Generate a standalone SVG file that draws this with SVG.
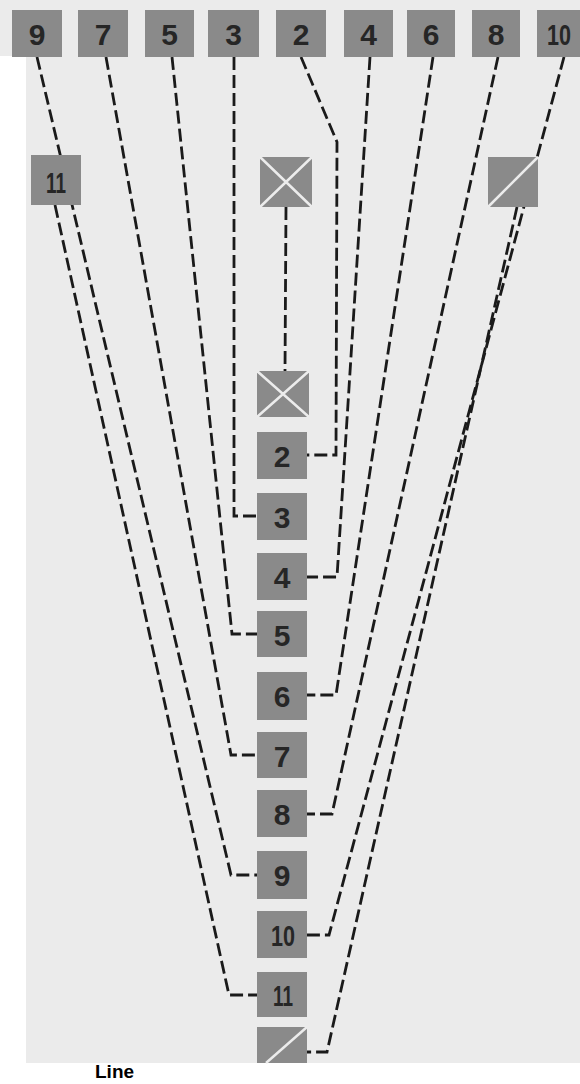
<svg xmlns="http://www.w3.org/2000/svg" width="580" height="1084" viewBox="0 0 580 1084">
<style>
.bg{fill:#ebebeb}
.box{fill:#8a8a8a}
.num{font-family:"Liberation Sans",Arial,sans-serif;font-weight:bold;font-size:30px;fill:#262626;text-anchor:middle}
.mark{stroke:#ececec;stroke-width:2.5;fill:none}
.conn{fill:none;stroke:#1a1a1a;stroke-width:2.8;stroke-dasharray:13 5;stroke-linejoin:miter}
.lbl{font-family:"Liberation Sans",Arial,sans-serif;font-weight:bold;font-size:19px;fill:#000}
</style>
<rect class="bg" x="0" y="0" width="580" height="1063"/>
<rect x="0" y="56" width="26" height="1028" fill="#ffffff"/>
<rect x="0" y="1063" width="580" height="21" fill="#ffffff"/>

<g id="connectors">
<polyline class="conn" points="37,57 231,875 257,875"/>
<polyline class="conn" points="55,205 229,995 257,995"/>
<polyline class="conn" points="106,57 231,755 257,755"/>
<polyline class="conn" points="172,57 232,634 257,634"/>
<polyline class="conn" points="234,57 234,516 257,516"/>
<polyline class="conn" points="286,207 285,371"/>
<polyline class="conn" points="301,57 337,142 336,455 307,455"/>
<polyline class="conn" points="370,57 337,577 307,577"/>
<polyline class="conn" points="433,57 336,695 307,695"/>
<polyline class="conn" points="498,57 332,814 307,814"/>
<polyline class="conn" points="564,57 329,935 307,935"/>
<polyline class="conn" points="517,207 327,1052 307,1052"/>
</g>

<g id="top-9"><rect class="box" x="12" y="10" width="50" height="47"/><text class="num" x="37" y="45">9</text></g>
<g id="top-7"><rect class="box" x="78" y="10" width="50" height="47"/><text class="num" x="103" y="45">7</text></g>
<g id="top-5"><rect class="box" x="145" y="10" width="49" height="47"/><text class="num" x="169.5" y="45">5</text></g>
<g id="top-3"><rect class="box" x="208" y="10" width="51" height="47"/><text class="num" x="233.5" y="45">3</text></g>
<g id="top-2"><rect class="box" x="276" y="10" width="50" height="47"/><text class="num" x="301" y="45">2</text></g>
<g id="top-4"><rect class="box" x="344" y="10" width="49" height="47"/><text class="num" x="368.5" y="45">4</text></g>
<g id="top-6"><rect class="box" x="407" y="10" width="48" height="47"/><text class="num" x="431" y="45">6</text></g>
<g id="top-8"><rect class="box" x="472" y="10" width="48" height="47"/><text class="num" x="496" y="45">8</text></g>
<g id="top-10"><rect class="box" x="537" y="10" width="50" height="47"/><text class="num" x="559" y="45" textLength="24" lengthAdjust="spacingAndGlyphs">10</text></g>

<g id="row2-11"><rect class="box" x="31" y="155" width="50" height="50"/><text class="num" x="56" y="193" textLength="20" lengthAdjust="spacingAndGlyphs">11</text></g>
<g id="row2-x"><rect class="box" x="260" y="157" width="52" height="50"/><path class="mark" d="M260,157 L312,207 M312,157 L260,207"/></g>
<g id="row2-slash"><rect class="box" x="488" y="157" width="50" height="50"/><path class="mark" d="M488,207 L538,157"/></g>

<g id="mid-x"><rect class="box" x="257" y="371" width="52" height="46"/><path class="mark" d="M257,371 L309,417 M309,371 L257,417"/></g>
<g id="mid-2"><rect class="box" x="257" y="432" width="50" height="47"/><text class="num" x="282" y="467">2</text></g>
<g id="mid-3"><rect class="box" x="257" y="493" width="50" height="47"/><text class="num" x="282" y="528">3</text></g>
<g id="mid-4"><rect class="box" x="257" y="553" width="50" height="47"/><text class="num" x="282" y="588">4</text></g>
<g id="mid-5"><rect class="box" x="257" y="611" width="50" height="46"/><text class="num" x="282" y="646">5</text></g>
<g id="mid-6"><rect class="box" x="257" y="672" width="50" height="48"/><text class="num" x="282" y="707">6</text></g>
<g id="mid-7"><rect class="box" x="257" y="732" width="50" height="46"/><text class="num" x="282" y="767">7</text></g>
<g id="mid-8"><rect class="box" x="257" y="790" width="50" height="47"/><text class="num" x="282" y="825">8</text></g>
<g id="mid-9"><rect class="box" x="257" y="851" width="50" height="48"/><text class="num" x="282" y="886">9</text></g>
<g id="mid-10"><rect class="box" x="257" y="911" width="50" height="47"/><text class="num" x="283" y="946" textLength="24" lengthAdjust="spacingAndGlyphs">10</text></g>
<g id="mid-11"><rect class="box" x="257" y="972" width="50" height="45"/><text class="num" x="283" y="1006" textLength="20" lengthAdjust="spacingAndGlyphs">11</text></g>
<g id="mid-slash"><rect class="box" x="257" y="1027" width="50" height="36"/><path class="mark" d="M266,1063 L307,1027"/></g>

<text class="lbl" x="95" y="1078">Line</text>
</svg>
